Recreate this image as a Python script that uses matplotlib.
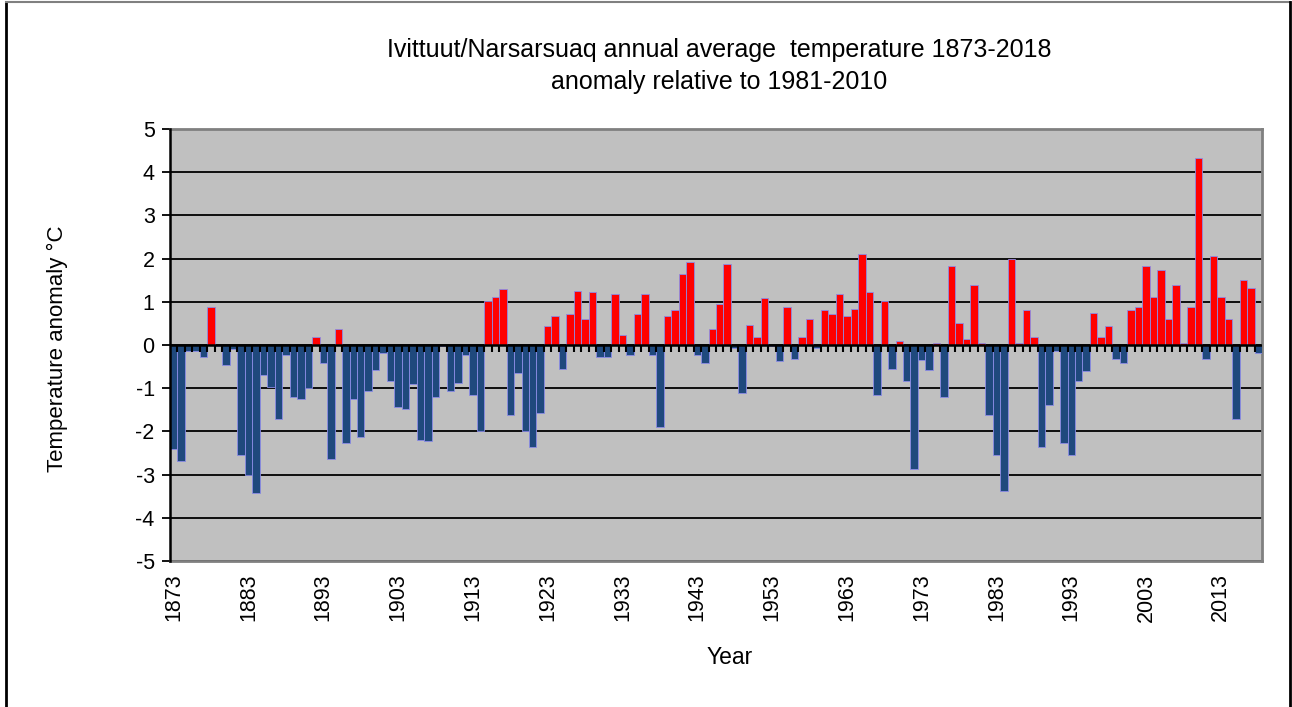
import numpy as np
import matplotlib
matplotlib.use('Agg')
import matplotlib.pyplot as plt
from matplotlib.lines import Line2D

plt.rcParams['font.family'] = ['Liberation Sans', 'DejaVu Sans']
plt.rcParams['axes.unicode_minus'] = False

# years and anomalies
first_year = 1873
anomaly = [
    -2.40, -2.69, -0.15, -0.15, -0.27, 0.89, -0.03, -0.46, -0.10, -2.54,   # 1873-1882
    -3.00, -3.43, -0.70, -0.97, -1.72, -0.23, -1.20, -1.25, -1.00, 0.19,   # 1883-1892
    -0.41, -2.65, 0.37, -2.27, -1.25, -2.12, -1.06, -0.58, -0.18, -0.83,   # 1893-1902
    -1.43, -1.48, -0.91, -2.19, -2.22, -1.20, -0.03, -1.06, -0.88, -0.23,  # 1903-1912
    -1.16, -1.99, 1.02, 1.12, 1.30, -1.63, -0.64, -1.99, -2.36, -1.57,     # 1913-1922
    0.43, 0.66, -0.55, 0.71, 1.26, 0.61, 1.22, -0.27, -0.27, 1.17,         # 1923-1932
    0.23, -0.23, 0.71, 1.17, -0.23, -1.90, 0.66, 0.80, 1.64, 1.91,         # 1933-1942
    -0.23, -0.41, 0.38, 0.94, 1.87, -0.08, -1.10, 0.47, 0.19, 1.08,        # 1943-1952
    -0.03, -0.36, 0.89, -0.32, 0.19, 0.61, -0.06, 0.80, 0.71, 1.17,        # 1953-1962
    0.66, 0.84, 2.10, 1.22, -1.16, 1.03, -0.55, 0.10, -0.83, -2.87,        # 1963-1972
    -0.35, -0.58, 0.05, -1.20, 1.82, 0.52, 0.15, 1.40, 0.05, -1.62,        # 1973-1982
    -2.54, -3.38, 1.99, 0.05, 0.80, 0.19, -2.36, -1.39, -0.13, -2.27,      # 1983-1992
    -2.54, -0.83, -0.60, 0.75, 0.19, 0.43, -0.32, -0.41, 0.80, 0.89,       # 1993-2002
    1.82, 1.12, 1.73, 0.61, 1.40, 0.05, 0.89, 4.33, -0.32, 2.05,           # 2003-2012
    1.12, 0.61, -1.71, 1.50, 1.31, -0.18,                                  # 2013-2018
]
years = list(range(first_year, first_year + len(anomaly)))

W, H = 1292, 707
fig = plt.figure(figsize=(W / 100, H / 100), dpi=100)
fig.patch.set_facecolor('white')
ax = fig.add_axes([170 / W, 1 - 561 / H, (1262 - 170) / W, (561 - 129) / H])
ax.set_facecolor('#C0C0C0')

vals = np.array(anomaly)
x = np.arange(len(vals))
colors = ['#FF0000' if v >= 0 else '#1F497D' for v in vals]
ax.bar(x, vals, width=1.0, color=colors, edgecolor='#8C8CE6', linewidth=0.6, zorder=3)

ax.set_xlim(-0.5, len(vals) - 0.5)
ax.set_ylim(-5, 5)
ax.set_yticks(range(-5, 6))
ax.yaxis.grid(True, color='black', linewidth=1.3, zorder=1)
ax.set_axisbelow(True)
ax.tick_params(axis='y', direction='out', length=6, width=1.3, labelsize=15.5, pad=5)

# x labels every 10 years, under the plot area
lab_idx = x[::10]
ax.set_xticks(lab_idx)
ax.set_xticklabels([str(years[i]) for i in lab_idx], rotation=90, fontsize=15.5)
ax.tick_params(axis='x', length=0, pad=9)

# zero axis line with category ticks
ax.axhline(0, color='black', linewidth=1.8, zorder=4)
ax.vlines(x[:-1] + 0.5, -0.16, 0, color='black', linewidth=1.5, zorder=4)

for s in ['top', 'right', 'bottom']:
    ax.spines[s].set_color('#808080')
    ax.spines[s].set_linewidth(2)
ax.spines['left'].set_color('black')
ax.spines['left'].set_linewidth(1.8)
ax.spines['left'].set_zorder(5)

fig.text(57 / W, 1 - 349 / H, 'Temperature anomaly °C', rotation=90,
         ha='center', va='center', fontsize=16)
fig.text(730 / W, 1 - 657 / H, 'Year', ha='center', va='center', fontsize=16.5)
fig.text(719 / W, 1 - 50 / H, 'Ivittuut/Narsarsuaq annual average  temperature 1873-2018',
         ha='center', va='center', fontsize=18)
fig.text(719 / W, 1 - 82 / H, 'anomaly relative to 1981-2010',
         ha='center', va='center', fontsize=18)

# outer chart frame
fig.add_artist(Line2D([6 / W, 6 / W], [0, 1 - 2 / H], color='black', linewidth=2, transform=fig.transFigure))
fig.add_artist(Line2D([6 / W, 1290 / W], [1 - 2 / H, 1 - 2 / H], color='#808080', linewidth=1.5, transform=fig.transFigure))
fig.add_artist(Line2D([1289.5 / W, 1289.5 / W], [0, 1 - 2 / H], color='black', linewidth=2, transform=fig.transFigure))

fig.savefig('out.png', dpi=100)
plt.close(fig)
